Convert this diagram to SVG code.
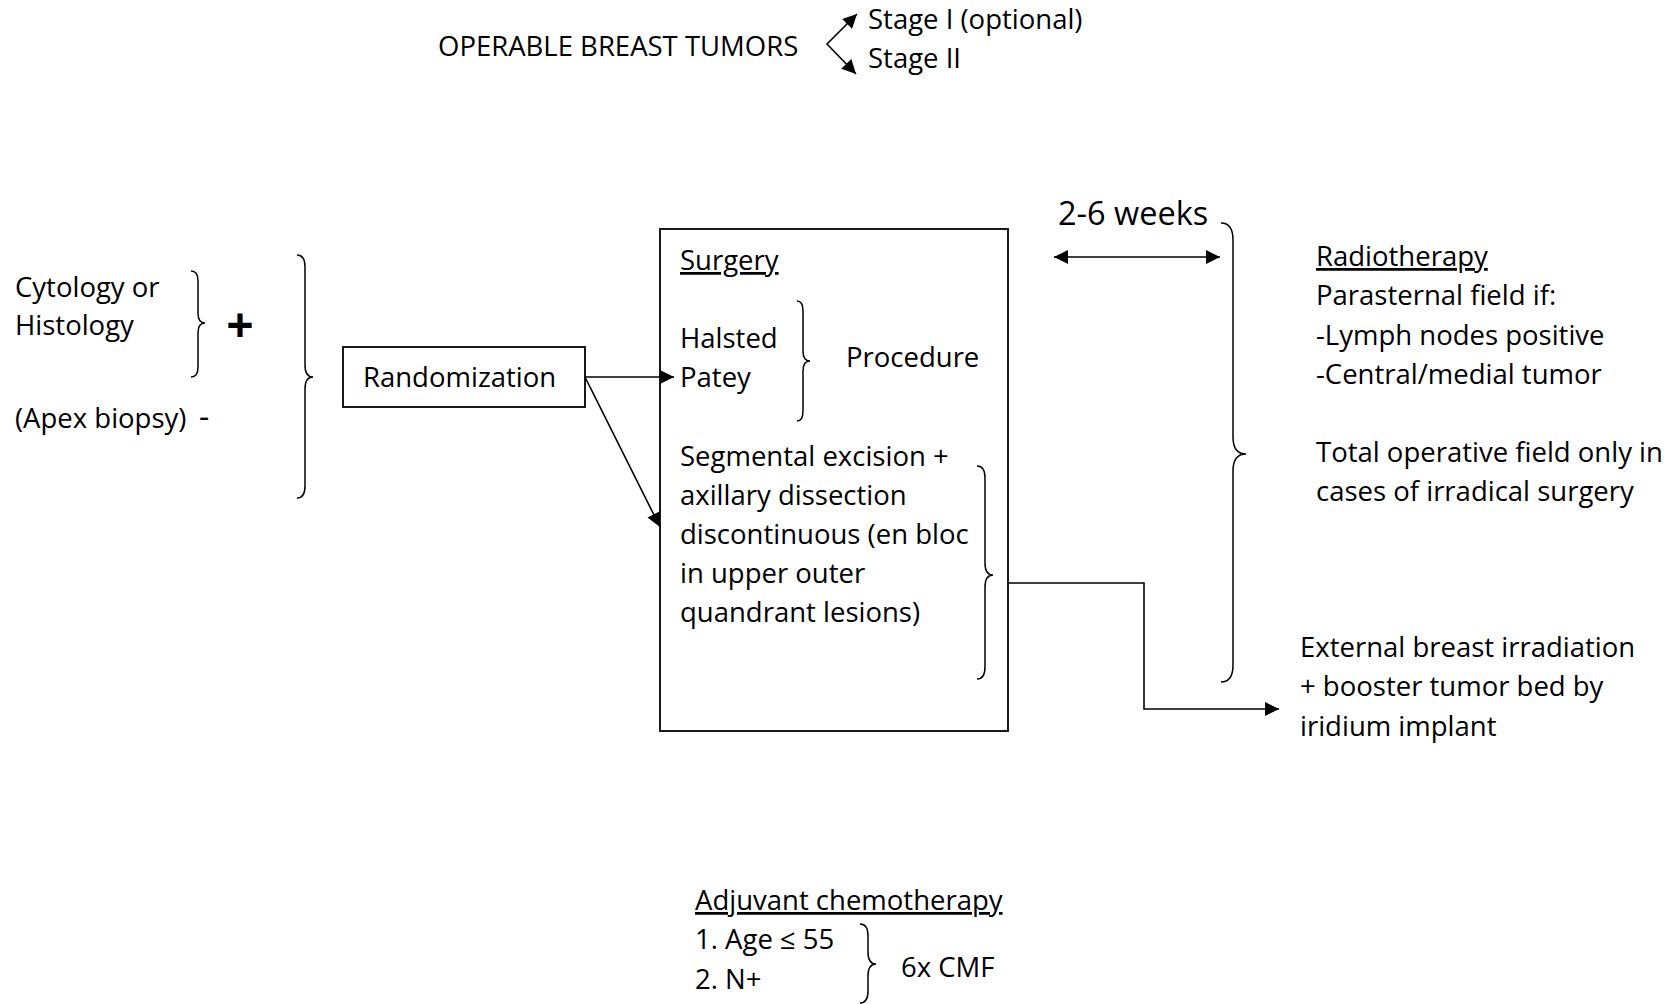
<svg xmlns="http://www.w3.org/2000/svg" width="1680" height="1004" viewBox="0 0 1680 1004">
<defs>
<style>
.t{font-family:"Open Sans","Noto Sans","Liberation Sans",sans-serif;font-size:27.5px;fill:#000}
.u{text-decoration:underline}
.ln{fill:none;stroke:#000;stroke-width:1.6}
.br{fill:none;stroke:#000;stroke-width:1.5}
.box{fill:#fff;stroke:#000;stroke-width:1.8}
</style>
<marker id="ah" viewBox="0 0 10 10" refX="10" refY="5" markerWidth="16" markerHeight="14" markerUnits="userSpaceOnUse" orient="auto-start-reverse">
<path d="M0,0 L10,5 L0,10 z" fill="#000"/>
</marker>
</defs>
<rect width="1680" height="1004" fill="#fff"/>

<g id="title">
<text class="t" x="438" y="56">OPERABLE BREAST TUMORS</text>
</g>
<g id="stage1"><text class="t" x="868" y="29">Stage I (optional)</text></g>
<g id="stage2"><text class="t" x="868" y="68">Stage II</text></g>

<g id="diagnosis">
<text class="t" x="15" y="297">Cytology or</text>
<text class="t" x="15" y="335">Histology</text>
<path class="br" d="M191,271 Q198,271 198,281 L198,313 Q198,323 205,323 Q198,323 198,333 L198,367 Q198,377 191,377"/>
<text x="240" y="342" text-anchor="middle" style="font-family:'Open Sans','Liberation Sans',sans-serif;font-size:48px;font-weight:bold">+</text>
<text class="t" x="15" y="428">(Apex biopsy)</text>
<text x="199" y="428" style="font-family:'Open Sans','Liberation Sans',sans-serif;font-size:32px">-</text>
<path class="br" d="M297,255 Q305,255 305,267 L305,365 Q305,377 313,377 Q305,377 305,389 L305,486 Q305,498 297,498"/>
</g>

<g id="randomization">
<rect class="box" x="343" y="347" width="242" height="60"/>
<text class="t" x="363" y="387">Randomization</text>
</g>

<g id="surgery">
<rect class="box" x="660" y="229" width="348" height="502"/>
<text class="t u" x="680" y="270">Surgery</text>
<text class="t" x="680" y="348">Halsted</text>
<text class="t" x="680" y="387">Patey</text>
<path class="br" d="M797,301 Q803,301 803,311 L803,351 Q803,361 810,361 Q803,361 803,371 L803,411 Q803,421 797,421"/>
<text class="t" x="846" y="367">Procedure</text>
<text class="t" x="680" y="466">Segmental excision +</text>
<text class="t" x="680" y="505">axillary dissection</text>
<text class="t" x="680" y="544">discontinuous (en bloc</text>
<text class="t" x="680" y="583">in upper outer</text>
<text class="t" x="680" y="622">quandrant lesions)</text>
<path class="br" d="M977,466 Q985,466 985,478 L985,563 Q985,575 993,575 Q985,575 985,587 L985,667 Q985,679 977,679"/>
</g>

<g id="interval">
<text x="1058" y="225" style="font-family:'Open Sans','Liberation Sans',sans-serif;font-size:32.5px">2-6 weeks</text>
</g>

<g id="radiotherapy">
<path class="br" d="M1221,223 Q1233,223 1233,240 L1233,437 Q1233,454 1246,454 Q1233,454 1233,471 L1233,665 Q1233,682 1221,682"/>
<text class="t u" x="1316" y="266">Radiotherapy</text>
<text class="t" x="1316" y="305">Parasternal field if:</text>
<text class="t" x="1316" y="345">-Lymph nodes positive</text>
<text class="t" x="1316" y="384">-Central/medial tumor</text>
<text class="t" x="1316" y="462">Total operative field only in</text>
<text class="t" x="1316" y="501">cases of irradical surgery</text>
</g>

<g id="external">
<text class="t" x="1300" y="657">External breast irradiation</text>
<text class="t" x="1300" y="696">+ booster tumor bed by</text>
<text class="t" x="1300" y="736">iridium implant</text>
</g>

<g id="chemotherapy">
<text class="t u" x="695" y="910">Adjuvant chemotherapy</text>
<text class="t" x="695" y="949">1. Age ≤ 55</text>
<text class="t" x="695" y="989">2. N+</text>
<path class="br" d="M860,924 Q868,924 868,936 L868,952 Q868,964 876,964 Q868,964 868,976 L868,991 Q868,1003 860,1003"/>
<text class="t" x="901" y="977">6x CMF</text>
</g>

<g id="connectors">
<path class="ln" d="M857,14 L827,44 L856,74" marker-start="url(#ah)" marker-end="url(#ah)"/>
<line class="ln" x1="585" y1="377" x2="674" y2="377" marker-end="url(#ah)"/>
<line class="ln" x1="585" y1="377" x2="660" y2="527" marker-end="url(#ah)"/>
<line class="ln" x1="1054" y1="257" x2="1220" y2="257" marker-start="url(#ah)" marker-end="url(#ah)"/>
<polyline class="ln" points="1008,583 1144,583 1144,709 1279,709" marker-end="url(#ah)"/>
</g>
</svg>
